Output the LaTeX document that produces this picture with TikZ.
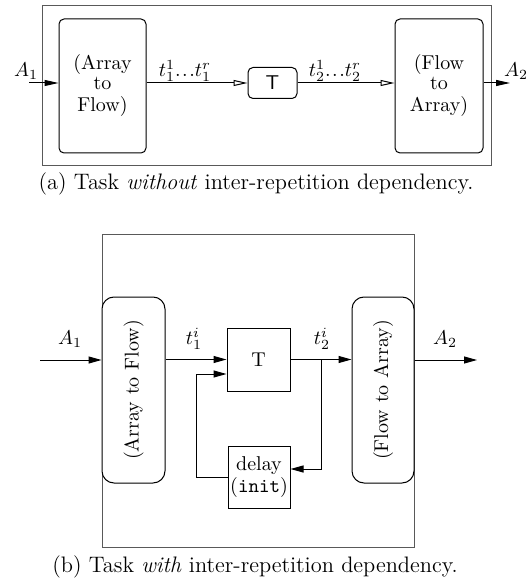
\documentclass[tikz,border=0pt]{standalone}
\usetikzlibrary{arrows.meta}
\newcommand{\tdots}{{.}\mkern1.5mu{.}\mkern1.5mu{.}}
\begin{document}
\begin{tikzpicture}[x=0.5pt,y=-0.5pt,
  frame/.style={draw=black!65, line width=0.5pt, inner sep=0},
  boxa/.style={draw, rounded corners=2.5pt, line width=0.5pt, align=center, inner sep=0, fill=white},
  boxb/.style={draw, rounded corners=6pt, line width=0.5pt, inner sep=0, fill=white},
  plain/.style={draw, line width=0.5pt, inner sep=0, align=center, fill=white},
  conn/.style={line width=0.5pt},
  fillarrow/.style={conn, -{Triangle[length=7pt,width=3pt]}},
  openarrow/.style={conn, -{Triangle[open,length=7pt,width=3pt]}},
  barrow/.style={conn, -{Triangle[length=6.5pt,width=3.5pt]}},
  lbl/.style={inner sep=0},
  captext/.style={inner sep=0, font=\fontsize{11.2}{13}\selectfont}
]
\useasboundingbox (0,0) rectangle (529,588);

% ---------- (a) ----------
\node[frame, minimum width=224.5pt, minimum height=80pt] (fa) at (266.5,86) {};
\node[boxa, minimum width=43.5pt, minimum height=67pt] (La) at (102.5,86) {(Array\\[-2pt]to\\[-1pt]Flow)};
\node[boxa, minimum width=24.5pt, minimum height=15.5pt] (Ta) at (272.5,83) {\textsf{T}};
\node[boxa, minimum width=44pt, minimum height=67pt] (Ra) at (439,86) {(Flow\\[-2pt]to\\[-1pt]Array)};
\coordinate (a1s) at (29,83);
\coordinate (a2e) at (510,83);
\draw[fillarrow] (a1s) -- (a1s -| La.west);
\draw[openarrow] (La.east |- Ta.west) -- (Ta.west);
\draw[openarrow] (Ta.east) -- (Ta.east -| Ra.west);
\draw[fillarrow] (a2e -| Ra.east) -- (a2e);
\node[lbl] (la1) at (26,71) {$A_1$};
\node[lbl] (lt1) at (185,71) {$t_1^1\tdots t_1^r$};
\node[lbl] (lt2) at (335,71) {$t_2^1\tdots t_2^r$};
\node[lbl] (la2) at (516,71) {$A_2$};
\node[captext] (capa) at (256,184) {(a) Task \emph{without} inter-repetition dependency.};

% ---------- (b) ----------
\node[frame, minimum width=156pt, minimum height=156.5pt] (fb) at (258,390.5) {};
\node[boxb, minimum width=31.5pt, minimum height=93pt] (Lb) at (133.5,390) {};
\node[rotate=90, lbl] (Lbt) at (Lb.center) {(Array to Flow)};
\node[boxb, minimum width=31pt, minimum height=93pt] (Rb) at (383,390) {};
\node[rotate=90, lbl] (Rbt) at (Rb.center) {(Flow to Array)};
\node[plain, minimum width=31.5pt, minimum height=31.5pt] (Tb) at (258.5,359.5) {T};
\node[plain, minimum width=31pt, minimum height=31pt] (Db) at (259,477) {delay\\[-1pt](\texttt{init})};
\coordinate (b1s) at (40,360);
\coordinate (b2e) at (477,360);
\coordinate (fbl) at (196,477);
\coordinate (fbt) at (196,374);
\coordinate (br) at (321,360);
\coordinate (brb) at (321,469);
\draw[barrow] (b1s) -- (b1s -| Lb.west);
\draw[barrow] (Lb.east |- Tb.west) -- (Tb.west);
\draw[barrow] (Tb.east) -- (Tb.east -| Rb.west);
\draw[barrow] (b2e -| Rb.east) -- (b2e);
\draw[barrow] (Db.west) -- (fbl) -- (fbt) -- (fbt -| Tb.west);
\draw[barrow] (br) -- (brb) -- (brb -| Db.east);
\node[lbl] (lb1) at (70,339) {$A_1$};
\node[lbl] (lbt1) at (194,339) {$t_1^i$};
\node[lbl] (lbt2) at (322,339) {$t_2^i$};
\node[lbl] (lb2) at (445,339) {$A_2$};
\node[captext] (capb) at (255,567) {(b) Task \emph{with} inter-repetition dependency.};
\end{tikzpicture}
\end{document}
